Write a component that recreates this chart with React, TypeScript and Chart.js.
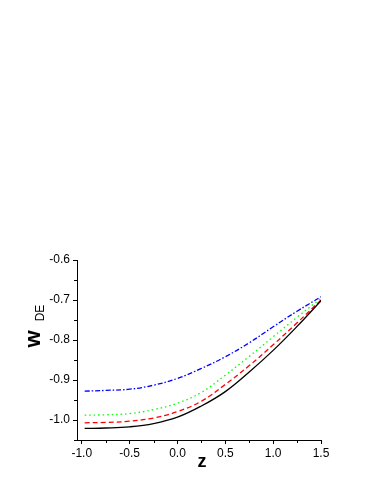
import React, { useEffect, useRef } from "react";
import { Chart, registerables } from "chart.js";

Chart.register(...registerables);

const zValues = [-0.97, -0.75, -0.5, -0.25, 0, 0.25, 0.5, 0.75, 1.0, 1.25, 1.5];
const blackSolid = [-1.021, -1.020, -1.017, -1.009, -0.993, -0.965, -0.929, -0.880, -0.826, -0.766, -0.702];
const redDashed = [-1.007, -1.006, -1.003, -0.995, -0.979, -0.953, -0.911, -0.864, -0.812, -0.757, -0.700];
const greenDotted = [-0.988, -0.987, -0.984, -0.974, -0.958, -0.931, -0.888, -0.841, -0.792, -0.743, -0.696];
const blueDashDot = [-0.928, -0.926, -0.923, -0.913, -0.896, -0.871, -0.842, -0.807, -0.767, -0.728, -0.692];

const xMajorTicks = [-1.0, -0.5, 0.0, 0.5, 1.0, 1.5];
const xMinorTicks = [-0.75, -0.25, 0.25, 0.75, 1.25];
const yMajorTicks = [-1.0, -0.9, -0.8, -0.7, -0.6];
const yMinorTicks = [-1.05, -0.95, -0.85, -0.75, -0.65];

const FONT = "Arial, 'Liberation Sans', sans-serif";

const toPoints = (ys: number[]) => zValues.map((x, i) => ({ x, y: ys[i] }));

const decorPlugin = {
  id: "decor",
  afterDraw(chart: any) {
    const ctx = chart.ctx;
    const area = chart.chartArea;
    const xs = chart.scales.x;
    const ys = chart.scales.y;
    ctx.save();
    ctx.strokeStyle = "#000";
    ctx.lineWidth = 1;
    ctx.beginPath();
    for (const v of yMinorTicks) {
      const py = Math.round(ys.getPixelForValue(v)) + 0.5;
      ctx.moveTo(area.left, py);
      ctx.lineTo(area.left - 3, py);
    }
    for (const v of xMinorTicks) {
      const px = Math.round(xs.getPixelForValue(v)) + 0.5;
      ctx.moveTo(px, area.bottom);
      ctx.lineTo(px, area.bottom + 3);
    }
    ctx.stroke();

    ctx.fillStyle = "#000";
    // y title: w_DE rotated
    ctx.save();
    ctx.translate(40, 339);
    ctx.rotate(-Math.PI / 2);
    ctx.textAlign = "center";
    ctx.textBaseline = "alphabetic";
    ctx.font = `bold 22px ${FONT}`;
    ctx.fillText("w", 0, 0);
    ctx.restore();
    ctx.save();
    ctx.translate(44, 313);
    ctx.rotate(-Math.PI / 2);
    ctx.textAlign = "center";
    ctx.textBaseline = "alphabetic";
    ctx.font = `12px ${FONT}`;
    ctx.fillText("DE", 0, 0);
    ctx.restore();

    // x title
    ctx.textAlign = "center";
    ctx.textBaseline = "alphabetic";
    ctx.font = `bold 18px ${FONT}`;
    ctx.fillText("z", (area.left + area.right) / 2 + 3, 467);
    ctx.restore();
  },
};

export default function App() {
  const canvasRef = useRef<HTMLCanvasElement | null>(null);

  useEffect(() => {
    if (!canvasRef.current) return;
    const chart = new Chart(canvasRef.current, {
      type: "line",
      data: {
        datasets: [
          {
            label: "black",
            data: toPoints(blackSolid),
            borderColor: "#000000",
            borderWidth: 1.3,
            pointRadius: 0,
            tension: 0.4,
          },
          {
            label: "red",
            data: toPoints(redDashed),
            borderColor: "#ff0000",
            borderWidth: 1.3,
            borderDash: [5, 3],
            pointRadius: 0,
            tension: 0.4,
          },
          {
            label: "green",
            data: toPoints(greenDotted),
            borderColor: "#00ff00",
            borderWidth: 1.3,
            borderDash: [1.5, 3],
            pointRadius: 0,
            tension: 0.4,
          },
          {
            label: "blue",
            data: toPoints(blueDashDot),
            borderColor: "#0000ff",
            borderWidth: 1.3,
            borderDash: [5, 2, 1.5, 2],
            pointRadius: 0,
            tension: 0.4,
          },
        ],
      },
      options: {
        animation: false,
        responsive: false,
        devicePixelRatio: 1,
        layout: { padding: { top: 260, right: 62, left: 0, bottom: 0 } },
        plugins: {
          legend: { display: false },
          tooltip: { enabled: false },
        },
        scales: {
          x: {
            type: "linear",
            min: -1.05,
            max: 1.5,
            afterBuildTicks: (scale: any) => {
              scale.ticks = xMajorTicks.map((v) => ({ value: v }));
            },
            afterFit: (scale: any) => {
              scale.height = 55;
            },
            grid: {
              display: true,
              drawOnChartArea: false,
              drawTicks: true,
              tickLength: 4,
              tickColor: "#000",
              tickWidth: 1,
            },
            border: { display: true, color: "#000", width: 1 },
            ticks: {
              color: "#000",
              font: { family: FONT, size: 12 },
              padding: 2,
              maxRotation: 0,
              autoSkip: false,
              callback: (v: any) => Number(v).toFixed(1),
            },
          },
          y: {
            type: "linear",
            min: -1.05,
            max: -0.6,
            afterBuildTicks: (scale: any) => {
              scale.ticks = yMajorTicks.map((v) => ({ value: v }));
            },
            afterFit: (scale: any) => {
              scale.width = 77;
            },
            grid: {
              display: true,
              drawOnChartArea: false,
              drawTicks: true,
              tickLength: 4,
              tickColor: "#000",
              tickWidth: 1,
            },
            border: { display: true, color: "#000", width: 1 },
            ticks: {
              color: "#000",
              font: { family: FONT, size: 12 },
              padding: 3,
              autoSkip: false,
              callback: (v: any) => Number(v).toFixed(1),
            },
          },
        },
      },
      plugins: [decorPlugin],
    });
    return () => chart.destroy();
  }, []);

  return (
    <div style={{ position: "absolute", left: 0, top: 0, width: 383, height: 495, background: "#fff" }}>
      <canvas ref={canvasRef} width={383} height={495} style={{ width: 383, height: 495 }} />
    </div>
  );
}
